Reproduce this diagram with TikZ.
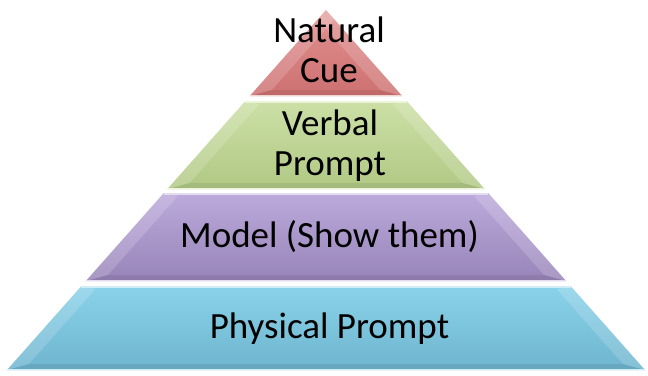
\documentclass[tikz,border=0pt]{standalone}
\usepackage{fontspec}
\setmainfont{Carlito}
\definecolor{redT}{RGB}{226,146,146}
\definecolor{redB}{RGB}{205,112,112}
\definecolor{grnT}{RGB}{204,224,166}
\definecolor{grnB}{RGB}{176,200,132}
\definecolor{purT}{RGB}{188,170,220}
\definecolor{purB}{RGB}{152,132,184}
\definecolor{bluT}{RGB}{138,210,234}
\definecolor{bluB}{RGB}{110,180,206}
\tikzset{
  lbl/.style={font=\fontsize{37}{40}\selectfont, align=center, text=black, inner sep=0pt},
  facetlight/.style={fill=white, fill opacity=0.16, draw=none},
  facetdark/.style={fill=black, fill opacity=0.07, draw=none},
}
\newcommand\pyrlayer[5]{%
  \pgfmathsetmacro\hwt{0.886*(#1-10)}%
  \pgfmathsetmacro\hwb{0.886*(#2-10)}%
  \shade[top color=#3, bottom color=#4]
    (326-\hwt,#1) -- (326+\hwt,#1) -- (326+\hwb,#2) -- (326-\hwb,#2) -- cycle;
  % left facet
  \fill[facetlight] (326-\hwt,#1) -- (326-\hwt+14,#1+3) -- (326-\hwb+22,#2-6) -- (326-\hwb,#2) -- cycle;
  % right facet
  \fill[facetlight] (326+\hwt,#1) -- (326+\hwt-14,#1+3) -- (326+\hwb-22,#2-6) -- (326+\hwb,#2) -- cycle;
  % bottom facet
  \fill[facetdark] (326-\hwb,#2) -- (326-\hwb+22,#2-6) -- (326+\hwb-22,#2-6) -- (326+\hwb,#2) -- cycle;
  % edges
  \draw[#5, line width=1.6pt] (326-\hwt,#1+0.8) -- (326+\hwt,#1+0.8);
  \draw[#5, line width=1.2pt] (326-\hwb,#2-0.6) -- (326+\hwb,#2-0.6);
}
\begin{document}
\begin{tikzpicture}[x=1pt,y=-1pt]
\useasboundingbox[fill=white] (0,0) rectangle (648,375);
\pyrlayer{10}{96}{redT}{redB}{redT!40!white}
\pyrlayer{101}{189}{grnT}{grnB}{grnT!40!white}
\pyrlayer{193}{281}{purT}{purB}{purT!40!white}
\pyrlayer{286}{370}{bluT}{bluB}{bluT!40!white}
\node[lbl] (natural) at (329,49.5) {Natural\\Cue};
\node[lbl] (verbal) at (330,145.5) {Verbal\\Prompt};
\node[lbl, anchor=base] (model) at (329.5,247) {Model (Show them)};
\node[lbl, anchor=base] (physical) at (329.5,338) {Physical Prompt};
\end{tikzpicture}
\end{document}
